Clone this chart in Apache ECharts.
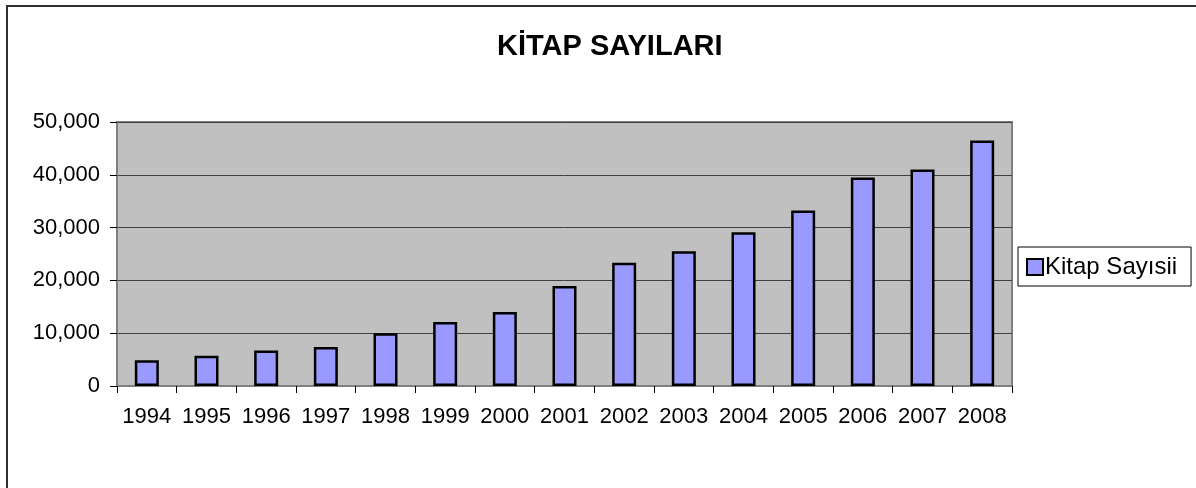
<!DOCTYPE html>
<html>
<head>
<meta charset="utf-8">
<script src="https://cdn.jsdelivr.net/npm/echarts@6/dist/echarts.min.js"></script>
<style>
html, body { margin: 0; padding: 0; background: #fff; }
#main { width: 1196px; height: 488px; }
</style>
</head>
<body>
<div id="main"></div>
<script>
var years = ['1994', '1995', '1996', '1997', '1998', '1999', '2000', '2001', '2002', '2003', '2004', '2005', '2006', '2007', '2008'];
var kitapSayisi = [4900, 5750, 6700, 7400, 10000, 12100, 14000, 18950, 23350, 25500, 29100, 33250, 39500, 41000, 46500];
var yTicks = [0, 10000, 20000, 30000, 40000, 50000];

var chart = echarts.init(document.getElementById('main'));
var font = 'Arial, "Liberation Sans", sans-serif';

var option = {
  backgroundColor: '#fff',
  animation: false,
  title: {
    text: 'KİTAP SAYILARI',
    left: 492,
    top: 27,
    textStyle: { fontFamily: font, fontSize: 29, fontWeight: 'bold', color: '#000' }
  },
  graphic: [
    { // outer frame
      type: 'rect',
      shape: { x: 7, y: 6, width: 1400, height: 700 },
      style: { fill: null, stroke: '#303030', lineWidth: 2 },
      silent: true
    }
  ],
  legend: {
    left: 1018,
    top: 247,
    orient: 'vertical',
    borderColor: '#000',
    borderWidth: 1,
    padding: [8, 14, 7, 8],
    itemWidth: 16,
    itemHeight: 16,
    itemGap: 4,
    icon: 'rect',
    textStyle: { fontFamily: font, fontSize: 24, color: '#000', padding: [0, 0, 0, -3] },
    data: ['Kitap Sayısii']
  },
  grid: {
    left: 117,
    right: 184,
    top: 122,
    bottom: 102,
    show: true,
    backgroundColor: '#C0C0C0',
    borderColor: '#808080',
    borderWidth: 2
  },
  xAxis: {
    type: 'category',
    data: years,
    axisLine: { show: true, lineStyle: { color: '#808080', width: 2 } },
    axisTick: { show: true, length: 7, lineStyle: { color: '#000', width: 1 } },
    axisLabel: { interval: 0, margin: 20, fontFamily: font, fontSize: 22, color: '#000' },
    splitLine: { show: false }
  },
  yAxis: {
    type: 'value',
    min: yTicks[0],
    max: yTicks[yTicks.length - 1],
    interval: 10000,
    axisLine: { show: true, lineStyle: { color: '#808080', width: 2 } },
    axisTick: { show: true, length: 7, lineStyle: { color: '#000', width: 1 } },
    axisLabel: { margin: 17, fontFamily: font, fontSize: 22, color: '#000' },
    splitLine: { show: true, lineStyle: { color: '#404040', width: 1 } }
  },
  series: [
    {
      name: 'Kitap Sayısii',
      type: 'bar',
      barWidth: 24,
      itemStyle: { color: '#9999FF', borderColor: '#000', borderWidth: 2.5 },
      data: kitapSayisi
    }
  ]
};

chart.setOption(option);
</script>
</body>
</html>
